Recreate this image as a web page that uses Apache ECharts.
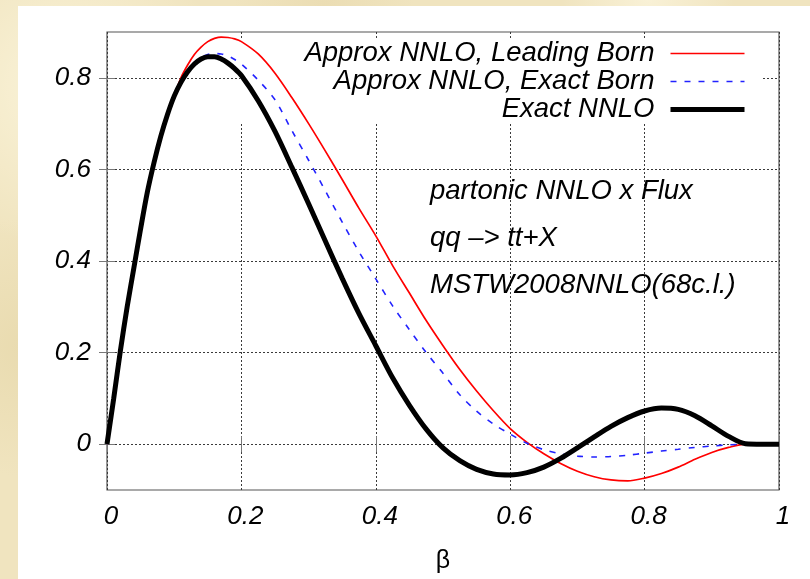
<!DOCTYPE html>
<html><head><meta charset="utf-8">
<script src="https://cdn.jsdelivr.net/npm/echarts@6/dist/echarts.min.js"></script>
<style>
html,body{margin:0;padding:0;width:810px;height:579px;overflow:hidden;}
body{background:
 radial-gradient(circle at 8% 15%, rgba(255,250,228,0.7), rgba(255,250,228,0) 18%),
 radial-gradient(circle at 3% 60%, rgba(226,210,160,0.5), rgba(226,210,160,0) 15%),
 radial-gradient(circle at 40% 1%, rgba(230,214,168,0.5), rgba(230,214,168,0) 12%),
 radial-gradient(circle at 80% 0%, rgba(255,250,230,0.6), rgba(255,250,230,0) 10%),
 #f0e4bf;}
#panel{position:absolute;left:18px;top:6px;width:792px;height:573px;background:#fff;}
#chart{position:absolute;left:0;top:0;width:810px;height:579px;}
</style></head><body>
<div id="panel"></div><div id="chart"></div>
<script>
// ---- data ----
const beta = [0,0.01,0.02,0.03,0.04,0.05,0.06,0.07,0.08,0.09,0.10,0.11,0.12,0.13,0.14,0.15,0.16,0.17,0.18,0.19,0.20,
  0.225,0.25,0.275,0.30,0.325,0.35,0.375,0.40,0.425,0.45,0.475,0.50,0.525,0.55,0.575,0.60,0.625,0.65,0.675,0.70,
  0.725,0.75,0.775,0.80,0.825,0.85,0.875,0.90,0.925,0.95,0.975,1.0];
const leadingBorn = [0,0.10,0.205,0.30,0.385,0.47,0.55,0.615,0.672,0.72,0.76,0.80,0.828,0.851,0.867,0.879,0.886,0.889,0.888,0.885,0.879,
  0.852,0.81,0.757,0.70,0.64,0.578,0.515,0.455,0.39,0.33,0.27,0.215,0.163,0.116,0.073,0.034,0.004,-0.021,-0.042,-0.059,
  -0.071,-0.078,-0.08,-0.074,-0.064,-0.05,-0.033,-0.018,-0.007,0,0,0];
const exactBorn = [0,0.10,0.205,0.30,0.385,0.47,0.55,0.615,0.672,0.72,0.76,0.79,0.815,0.834,0.845,0.851,0.853,0.852,0.848,0.84,0.83,
  0.795,0.752,0.685,0.62,0.553,0.485,0.42,0.361,0.302,0.25,0.20,0.155,0.108,0.072,0.044,0.022,0.002,-0.012,-0.021,-0.026,
  -0.028,-0.027,-0.024,-0.0196,-0.015,-0.011,-0.007,-0.004,-0.0015,0,0,0];
const exactNNLO = [0,0.10,0.205,0.30,0.385,0.47,0.55,0.615,0.672,0.72,0.76,0.79,0.813,0.83,0.841,0.846,0.846,0.841,0.832,0.82,0.805,
  0.75,0.683,0.605,0.525,0.443,0.362,0.285,0.215,0.145,0.085,0.033,-0.008,-0.036,-0.055,-0.065,-0.067,-0.062,-0.05,-0.031,-0.008,
  0.016,0.039,0.058,0.0725,0.079,0.076,0.062,0.04,0.017,0.001,0,0];
const seriesNames = ['Approx NNLO, Leading Born','Approx NNLO, Exact Born','Exact NNLO'];
const xTicks = [0,0.2,0.4,0.6,0.8,1];
const xTickLabels = ['0','0.2','0.4','0.6','0.8','1'];
const yTicks = [0,0.2,0.4,0.6,0.8];
const yTickLabels = ['0','0.2','0.4','0.6','0.8'];
const xTitle = 'β';
const notes = ['partonic NNLO x Flux','qq –> tt+X','MSTW2008NNLO(68c.l.)'];

// ---- chart ----
const FONT = '"Liberation Sans", Arial, Helvetica, sans-serif';
const pair = ys => beta.map((b,i)=>[b, ys[i]]);
const lab = (ticks, labels) => v => { const i = ticks.findIndex(t => Math.abs(t - v) < 1e-9); return i < 0 ? '' : labels[i]; };
const tickStyle = {color:'#777', width:1};
const gridLine = {show:true, lineStyle:{color:'#3a3a3a', width:1, type:[2,2]}};
const labelStyle = {fontSize:26, fontStyle:'italic', fontFamily:FONT, color:'#000'};

const chart = echarts.init(document.getElementById('chart'), null, {renderer:'canvas'});
chart.setOption({
  animation:false,
  backgroundColor:'transparent',
  grid:{left:107, top:32, width:672, height:460, show:true, borderColor:'#555', borderWidth:1.2, backgroundColor:'transparent'},
  xAxis:[
    {type:'value', min:0, max:1, interval:0.2, position:'bottom',
     axisLine:{show:false}, axisTick:{show:true, inside:true, length:8, lineStyle:tickStyle},
     axisLabel:Object.assign({margin:14, padding:[0,0,0,8], formatter:lab(xTicks,xTickLabels)}, labelStyle),
     splitLine:gridLine,
     name:xTitle, nameLocation:'middle', nameGap:59,
     nameTextStyle:{fontSize:25, fontFamily:FONT, color:'#000'}},
    {type:'value', min:0, max:1, interval:0.2, position:'top',
     axisLine:{show:false}, axisTick:{show:true, inside:true, length:8, lineStyle:tickStyle},
     axisLabel:{show:false}, splitLine:{show:false}}
  ],
  yAxis:[
    {type:'value', min:-0.1, max:0.9, splitNumber:5, position:'left',
     axisLine:{show:false}, axisTick:{show:true, inside:true, length:8, customValues:yTicks, lineStyle:tickStyle},
     axisLabel:Object.assign({margin:16, customValues:yTicks, formatter:lab(yTicks,yTickLabels)}, labelStyle),
     splitLine:gridLine},
    {type:'value', min:-0.1, max:0.9, splitNumber:5, position:'right',
     axisLine:{show:false}, axisTick:{show:true, inside:true, length:8, customValues:yTicks, lineStyle:tickStyle},
     axisLabel:{show:false}, splitLine:{show:false}}
  ],
  legend:{
    orient:'vertical', right:47, top:38, align:'right', z:1, selectedMode:false,
    backgroundColor:'#fff', padding:[2,16,1,64],
    itemWidth:74, itemHeight:14, itemGap:1,
    itemStyle:{opacity:0},
    lineStyle:{width:'inherit', type:'inherit', color:'inherit', opacity:1},
    textStyle:{fontSize:27.5, fontStyle:'italic', fontFamily:FONT, color:'#000', padding:[0,11,0,0]},
    data:seriesNames
  },
  graphic:notes.map((t,i)=>({
    type:'text', x:430, y:[191.5,238,285.5][i], z:5,
    style:{text:t, fontSize:27.5, fontStyle:'italic', fontFamily:FONT, fill:'#000', verticalAlign:'middle', align:'left'}
  })),
  series:[
    {name:seriesNames[0], type:'line', data:pair(leadingBorn), symbol:'none', smooth:0.3, z:2, silent:true,
     lineStyle:{color:'#ff0000', width:1.7}, itemStyle:{color:'#ff0000'}, emphasis:{disabled:true}},
    {name:seriesNames[1], type:'line', data:pair(exactBorn), symbol:'none', smooth:0.3, z:3, silent:true,
     lineStyle:{color:'#2222ff', width:1.6, type:[6,8]}, itemStyle:{color:'#2222ff'}, emphasis:{disabled:true}},
    {name:seriesNames[2], type:'line', data:pair(exactNNLO), symbol:'none', smooth:0.3, z:4, silent:true,
     lineStyle:{color:'#000000', width:5}, itemStyle:{color:'#000000'}, emphasis:{disabled:true}}
  ]
});
</script></body></html>
